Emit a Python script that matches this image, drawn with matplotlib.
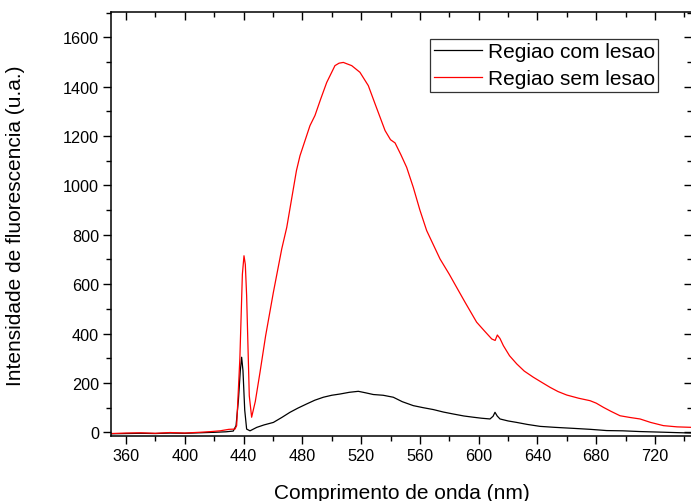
import matplotlib
matplotlib.use("Agg")
import matplotlib.pyplot as plt
from matplotlib.ticker import MultipleLocator

plt.rcParams['font.family'] = ['Liberation Sans', 'DejaVu Sans']

# Regiao com lesao (black)
x_com = [350, 360, 370, 380, 390, 400, 410, 420, 428, 433, 434.9, 436.5, 437.8, 438.7, 439.6, 440.8, 442.1,
         444.4, 449, 454, 460.3, 466, 471.6, 477, 483, 488.5, 494.3, 500, 505.6, 512, 518.1, 523,
         528.3, 535, 541.9, 548, 555.5, 562, 569.2, 576, 582.8, 590, 596.4, 602, 607.7, 609.8,
         611.1, 612.6, 614.5, 620, 625.9, 633, 641.8, 652, 664.4, 676, 687.1, 698, 709.8, 722, 733, 745]
y_com = [-6, -5, -4, -5, -3, -4, -2, 0, 2, 5, 27, 130, 250, 304, 250, 90, 13,
         6, 20, 30, 40, 60, 81, 98, 115, 130, 142, 150, 155, 162, 166, 160,
         153, 150, 142, 124, 108, 100, 92, 82, 74, 66, 61, 57, 54, 65,
         81, 66, 54, 46, 40, 32, 24, 20, 16, 12, 7, 6, 3, 1, -1, -3]

# Regiao sem lesao (red)
x_sem = [350, 360, 370, 380, 390, 400, 410, 418, 424, 430, 434.2, 435.3, 437.5, 439.2, 440.3, 441.2, 442.1,
         443.9, 445.5, 448, 451.2, 455, 460.3, 466, 469.4, 472.7, 476, 478.4, 485.2, 488.6, 492.5,
         496.6, 502.2, 505, 507.9, 510.5, 513.6, 519.2, 524.9, 529.5, 536.3, 540, 543.1, 547, 551, 555.5,
         560, 564.6, 573.7, 580, 585, 590.7, 598.6, 604, 608.9, 611.2, 612.7, 614.5, 616.8, 621,
         625.9, 631, 637.2, 643, 648.6, 654, 659.9, 668, 675.8, 680, 684.9, 690, 696.2, 703, 709.8,
         717, 725.7, 735, 745]
y_sem = [-5, -3, -2, -4, -1, -3, 0, 3, 6, 12, 13, 27, 300, 640, 715, 680, 553,
         148, 61, 125, 243, 390, 567, 743, 830, 945, 1060, 1120, 1242, 1283, 1350,
         1417, 1485, 1495, 1498, 1492, 1485, 1458, 1404, 1330, 1222, 1185, 1172, 1125, 1073, 992,
         900, 817, 702, 640, 587, 527, 446, 410, 378, 372, 394, 380, 351, 310,
         277, 248, 223, 202, 182, 165, 151, 138, 128, 118, 101, 85, 67, 60, 54,
         40, 27, 22, 20]

W, H = 691, 502
fig = plt.figure(figsize=(W / 100, H / 100), dpi=100)
left, right, top, bottom = 110.7, 692.5, 13.3, 437.3
ax = fig.add_axes([left / W, 1 - bottom / H, (right - left) / W, (bottom - top) / H])

ax.plot(x_com, y_com, color='black', lw=0.9, label='Regiao com lesao')
ax.plot(x_sem, y_sem, color='red', lw=0.9, label='Regiao sem lesao')

ax.set_xlim(349.6, 745.5)
ax.set_ylim(-16.2, 1701)

ax.xaxis.set_major_locator(MultipleLocator(40))
ax.xaxis.set_minor_locator(MultipleLocator(20))
ax.yaxis.set_major_locator(MultipleLocator(200))
ax.yaxis.set_minor_locator(MultipleLocator(100))

for s in ax.spines.values():
    s.set_linewidth(1.1)

ax.tick_params(axis='both', which='major', length=5.5, width=1.0, labelsize=11.7, pad=3)
ax.tick_params(axis='both', which='minor', length=3.5, width=1.0)
ax.tick_params(axis='x', which='both', top=True, bottom=True, direction='out')
ax.tick_params(axis='y', which='both', left=True, right=True, direction='out')
# top/right ticks point inward, bottom/left outward
for t in ax.xaxis.get_major_ticks() + ax.xaxis.get_minor_ticks():
    t.tick2line.set_marker(3)  # TICKDOWN
for t in ax.yaxis.get_major_ticks() + ax.yaxis.get_minor_ticks():
    t.tick2line.set_marker(0)  # TICKLEFT

ax.set_xlabel('Comprimento de onda (nm)', fontsize=15, labelpad=14)
ax.set_ylabel('Intensidade de fluorescencia (u.a.)', fontsize=15, labelpad=27)

leg = ax.legend(loc='upper right', bbox_to_anchor=(658 / W, 1 - 40 / H),
                bbox_transform=fig.transFigure, fontsize=15, frameon=True, fancybox=False,
                borderaxespad=0, borderpad=0.15, handlelength=2.3, handletextpad=0.3,
                labelspacing=0.4)
leg.get_frame().set_edgecolor('black')
leg.get_frame().set_linewidth(0.9)

fig.savefig('out.png', dpi=100)
